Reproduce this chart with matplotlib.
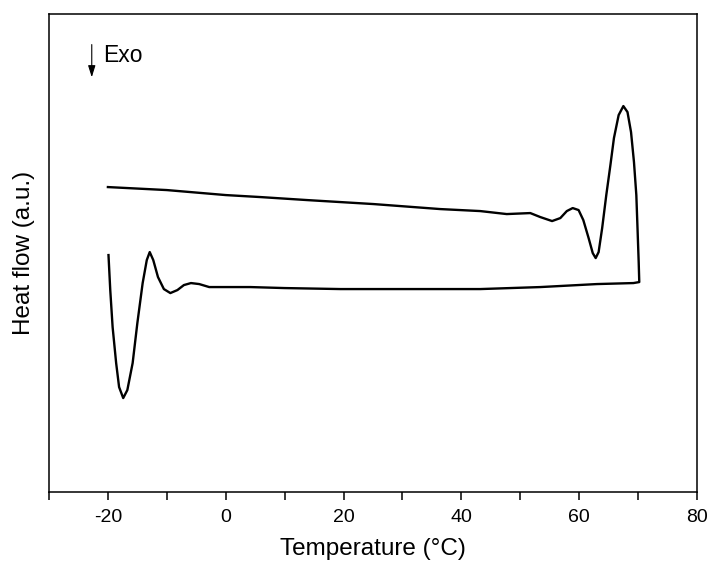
import matplotlib
matplotlib.use('Agg')
import matplotlib.pyplot as plt
from matplotlib.ticker import MultipleLocator

plt.rcParams['font.family'] = ['Liberation Sans', 'DejaVu Sans']
plt.rcParams['axes.unicode_minus'] = False

# heating run (upper trace)
temp_upper = [-20.0, -10.0, 0.0, 5.9, 13.8, 25.1, 36.4, 43.2, 47.7, 51.7, 53.4,
              55.4, 56.8, 57.9, 58.9, 59.9, 60.7, 61.6, 62.3, 62.8, 63.3, 63.9,
              64.6, 65.3, 65.9, 66.7, 67.5, 68.2, 68.8, 69.3, 69.7, 69.9, 70.1, 70.2]
hf_upper = [3.05, 3.02, 2.97, 2.95, 2.92, 2.88, 2.83, 2.81, 2.78, 2.79, 2.75,
            2.71, 2.74, 2.81, 2.84, 2.82, 2.72, 2.54, 2.39, 2.34, 2.40, 2.64,
            2.97, 3.27, 3.54, 3.77, 3.86, 3.80, 3.60, 3.30, 2.97, 2.64, 2.30, 2.10]

# cooling run (lower trace), from 70 back down to -20
temp_lower = [69.2, 63.0, 53.4, 43.2, 36.4, 19.5, 10.0, 4.2, -2.8, -4.5, -5.9,
              -7.1, -8.2, -9.4, -10.5, -11.5, -12.3, -12.9, -13.4, -14.1, -15.0,
              -15.8, -16.7, -17.4, -18.1, -18.6, -19.2, -19.6, -19.9]
hf_lower = [2.09, 2.08, 2.05, 2.03, 2.03, 2.03, 2.04, 2.05, 2.05, 2.08, 2.09,
            2.07, 2.02, 1.99, 2.03, 2.15, 2.32, 2.40, 2.32, 2.09, 1.69,
            1.29, 1.02, 0.94, 1.05, 1.29, 1.65, 2.02, 2.37]

fig = plt.figure(figsize=(7.1, 5.63), dpi=100)
ax = fig.add_axes([0.069, 0.126, 0.9127, 0.849])

ax.plot(temp_upper + temp_lower, hf_upper + hf_lower, '-', color='black', lw=1.7,
        solid_joinstyle='round')

ax.set_xlim(-30, 80)
ax.set_ylim(0, 4.78)
ax.xaxis.set_major_locator(MultipleLocator(20))
ax.xaxis.set_minor_locator(MultipleLocator(10))
ax.set_yticks([])
ax.tick_params(axis='x', which='both', direction='out', length=5.5, width=1.1,
               labelsize=14, pad=7)

for s in ax.spines.values():
    s.set_linewidth(1.1)

ax.set_xlabel('Temperature (\u00b0C)', fontsize=17.5, labelpad=8)
ax.set_ylabel('Heat flow (a.u.)', fontsize=17.5, labelpad=10)

# exotherm direction marker
ax.annotate('', xy=(0.066, 0.862), xytext=(0.066, 0.942), xycoords='axes fraction',
            arrowprops=dict(arrowstyle='-|>,head_width=0.22,head_length=0.7',
                            color='black', lw=0.8))
ax.text(0.083, 0.914, 'Exo', transform=ax.transAxes, fontsize=16.5, va='center', ha='left')

fig.savefig('out.png', dpi=100)
